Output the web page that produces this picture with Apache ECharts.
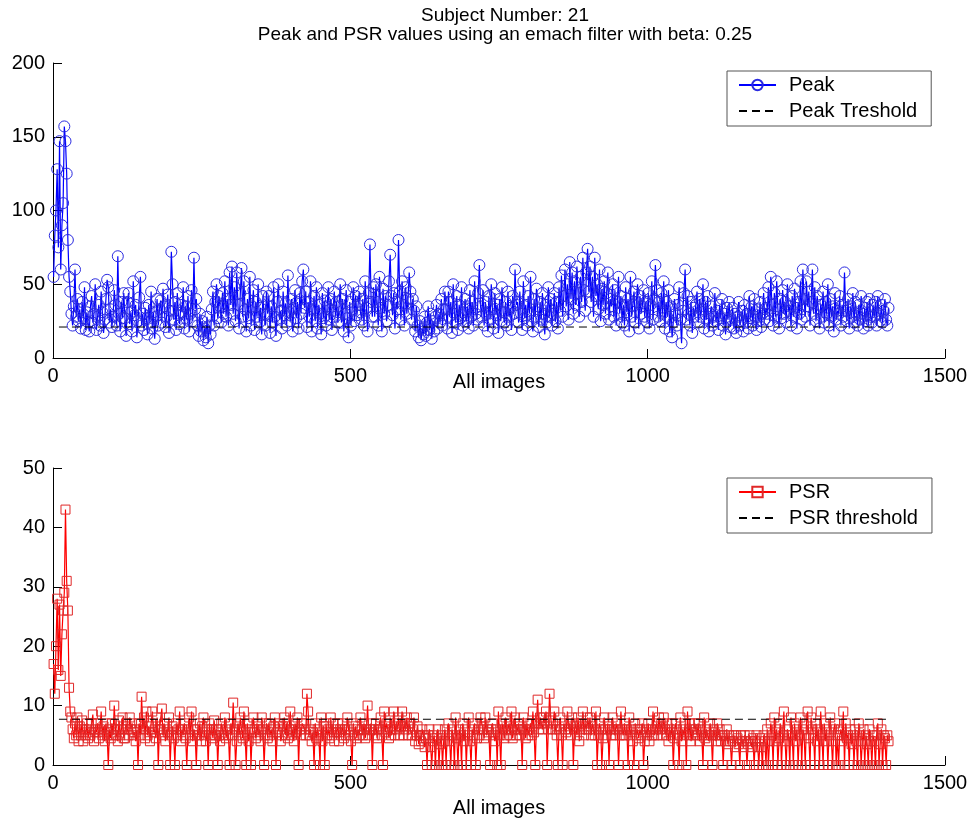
<!DOCTYPE html>
<html><head><meta charset="utf-8">
<script src="https://cdn.jsdelivr.net/npm/echarts@6/dist/echarts.min.js"></script>
<style>html,body{margin:0;padding:0;background:#fff}#c{width:971px;height:824px}</style>
</head><body><div id="c"></div>
<script>
const titleLines = ['Subject Number: 21', 'Peak and PSR values using an emach filter with beta: 0.25'];
const xLabel = 'All images';
const firstImage = 1;
const imageStep = 2;
const peakValues = [
55,83,100,128,75,147,60,90,105,157,147,125,80,55,45,30,22,35,60,28,40,25,33,20,38,27,48,19,31,24,
18,35,42,24,30,50,19,28,36,22,45,31,17,26,40,53,48,24,33,21,28,46,36,22,69,30,18,38,27,44,
27,15,38,44,23,31,18,52,29,36,14,25,41,55,22,30,19,34,27,16,36,24,45,20,31,13,28,40,22,33,
39,24,47,35,21,28,43,17,32,72,50,26,38,19,44,29,23,36,31,48,20,35,26,42,18,30,46,25,68,33,
40,22,15,30,18,25,12,20,14,28,10,22,16,33,45,22,38,50,27,42,35,24,44,30,52,28,40,22,58,36,
62,30,48,25,58,36,20,44,61,28,52,33,18,40,27,55,22,35,46,19,38,28,50,24,34,16,42,30,22,45,
30,42,17,35,24,48,28,15,38,50,26,32,20,45,29,37,22,56,31,25,40,18,34,46,27,38,20,44,30,52,
60,34,45,21,38,28,52,18,33,42,25,48,20,36,30,16,44,27,39,22,35,48,26,40,19,32,45,28,38,24,
35,50,24,40,18,30,46,27,14,38,22,33,48,25,42,29,36,45,31,26,40,22,52,34,18,44,77,38,28,48,
28,50,38,22,55,34,18,47,30,42,25,36,52,70,42,29,44,20,38,33,80,45,26,52,36,22,48,30,40,58,
45,26,40,32,18,35,22,14,25,12,20,16,28,15,24,35,19,30,13,25,18,28,36,20,30,24,40,22,33,45,
33,20,45,28,38,17,50,30,24,42,19,36,27,48,22,31,40,25,35,20,46,28,38,22,52,30,26,44,63,35,
28,46,22,38,30,18,42,26,50,33,20,44,29,36,17,40,25,48,31,24,38,22,45,28,34,19,42,30,60,36,
38,24,45,30,19,52,27,36,22,42,30,55,25,18,40,28,47,33,21,38,26,44,30,16,36,24,48,28,40,22,
30,44,25,38,20,48,32,56,28,42,60,35,50,26,65,40,58,30,52,36,62,44,28,55,38,68,46,32,58,74,
45,62,38,55,28,68,42,50,33,60,25,47,36,52,30,44,58,26,40,35,50,28,46,22,38,55,30,42,24,36,
22,48,31,40,18,55,28,36,45,24,38,50,20,42,30,35,46,28,38,24,44,20,36,52,26,40,63,46,28,38,
25,44,30,52,20,38,28,46,18,35,14,24,40,30,22,36,48,26,10,32,44,60,26,42,30,22,38,17,34,28,
36,45,24,40,28,33,50,20,38,26,42,18,30,35,22,28,44,25,32,19,36,27,40,22,30,16,34,26,38,21,
26,34,20,30,17,28,38,22,25,32,18,36,24,30,20,42,27,35,22,40,28,19,33,25,38,21,30,44,26,34,
30,48,25,55,36,22,44,28,52,33,20,40,27,46,30,38,24,50,32,35,22,42,28,47,34,20,38,30,52,26,
60,40,28,52,35,45,22,38,60,30,48,25,42,33,20,36,28,45,24,38,30,50,22,40,28,35,18,44,26,32,
30,42,22,36,28,58,32,25,40,20,35,28,44,24,38,30,22,36,26,42,30,20,34,25,38,22,40,28,24,36,
28,38,22,42,30,25,36,24,32,40,26,22,34
];
const psrValues = [
17,12,20,28,16,27,15,22,26,29,43,31,26,13,9,8,6,4.5,7,5,8,4,6.5,5,7.5,4,6,5,7,4.5,
6,5,7,8.5,4,6,5.5,7,4.5,6,9,5,6.5,4,7,5,0,6,4.5,7,5,10,6,5,4,7.5,5,6,8,4.5,
4.5,7,6,5,8,6,7,5,5.5,4,6,0,7,5,11.5,6,8,4.5,9,5,6.5,4,7,9,5.5,6,4.5,8,0,6,
6,9.5,5,7,4,6,5.5,8,0,5,6.5,4.5,0,7,5,6,9,4,6,5,7,4.5,0,6,8,5,9,4,6,5,
0,6,5,7,4,6.5,8,5,4,6,0,7,5,6,4.5,7.5,5,6,0,5,4,7,6,5,8,4.5,6,5,0,7,
5,10.5,6,0,4,7,5,8,6,4.5,9,5,0,7,4,6,0,5.5,8,6,4.5,7,5,6,4,8,6,0,5,7,
4.5,7,5,6,4,6.5,8,0,5.5,6,7,4,5,6.5,8,5,7,4.5,6,9,5,6,4,7,5.5,8,0,6,5,7,
7,6,5,12,9,5,6,4,5.5,0,7,4.5,6,5,0,8,4,6.5,0,7,5,6,4.5,8,5,7,4,6,5.5,7,
4,6,5,7,4.5,6,5,8,6,5,4,0,7,5,6.5,4.5,6,5,8,6,5,7,4.5,6,10,5,6,7,0,6,
5,7,4.5,6,6,8,5,0,9,5.5,7,6,4.5,8,5,6,9,5,7,6,8,5,6.5,9,5,7,6,8,5,7,
7,5,6,8,4,5,6.5,3.5,5,4,6,5,3,4.5,0,5,6,3,0,4,5,0,4.5,6,0,3.5,5,0,4,6,
0,5,7,4,0,6,5,0,8,4.5,0,6,5,0,7,4,6,0,5,8,4,0,6,5,7,0,4.5,6,5,8,
7,6,4.5,8,5,6,5.5,0,6,7,5,4,6,0,9,5,0,7,6,4.5,8,5,6,7,5,9,4.5,6,8,5,
6,7,5,6,0,8,6,4.5,7,5,6,7,5,9,5.5,0,7,11,6,8,7,6,8,7,9,0,6,12,8,6,
7,9,6,5,0,6,8,5,0,7,6,5.5,9,6,7,5,8,0,6,7,5,8,4,7,6,9,5,7,6,8,
6,8,5,7,6,5,9,0,5,7,6,0,4.5,8,6,5,7,0,6,5,8,6,5,7,6,0,5,9,6,5,
7,5,6,0,8,5,6,4,0,7,5,6,4.5,6,5,7,0,4,6,5,7,4,6,5,9,5,6,7,5,8,
6,7,5,8,6,5,7,4,6,5,7,0,4.5,7,6,5,0,8,4,6,5,7,0,9,5,7,4,6,5,7,
6,5,7,4,6,5,0,8,4.5,6,5,4,7,5,0,6,5,4,7,5,6,4,5,0,5,4,6,3.5,5,4,
0,4,5,3,5,4.5,3.5,0,5,4,3,5,4,0,3.5,5,4,3,4.5,0,4,5,3,0,4.5,3,0,5,4,0,
6,0,4,7,5,0,8,4,6,0,4.5,7,0,5,9,4,0,6,5,0,8,5,0,7,4,6,0,5,8,0,
6,5,0,7,9,4.5,0,8,6,5,0,7,4,6,0,9,5,0,7,4,6,0,5,8,4,0,6,7,0,5,
0,5,6,4,9,0,7,4.5,5,0,6,3.5,5,0,6,4,0,7,5,0,4,6,0,5,3.5,0,6,4,0,5,
4,0,5,7,0,3.5,6,0,5,4.5,0,5,4
];
const peakThreshold = 21;
const psrThreshold = 7.7;
const thresholdImages = [10, 1405];
const xTicks = {min: 0, max: 1500, interval: 500};
const peakTicks = {min: 0, max: 200, interval: 50};
const psrTicks = {min: 0, max: 50, interval: 10};
const seriesNames = ['Peak', 'Peak Treshold', 'PSR', 'PSR threshold'];

const FONT = 'Liberation Sans, Arial, sans-serif';
const toPairs = vals => vals.map((v, i) => [firstImage + i * imageStep, v]);
const thrPairs = t => thresholdImages.map(x => [x, t]);

function xAxis(gi, nameGap) {
  return {
    type: 'value', gridIndex: gi, min: xTicks.min, max: xTicks.max, interval: xTicks.interval,
    name: xLabel, nameLocation: 'middle', nameGap: nameGap, nameMoveOverlap: false,
    nameTextStyle: {fontSize: 20, color: '#000', fontFamily: FONT},
    axisLine: {show: true, onZero: false, lineStyle: {color: '#000', width: 1}},
    axisTick: {show: true, inside: true, length: 9, lineStyle: {color: '#000'}},
    axisLabel: {fontSize: 20, color: '#000', fontFamily: FONT, margin: 8, formatter: v => String(v)},
    splitLine: {show: false}
  };
}
function yAxis(gi, t) {
  return {
    type: 'value', gridIndex: gi, min: t.min, max: t.max, interval: t.interval,
    axisLine: {show: true, lineStyle: {color: '#000', width: 1}},
    axisTick: {show: true, inside: true, length: 9, lineStyle: {color: '#000'}},
    axisLabel: {fontSize: 20, color: '#000', fontFamily: FONT, margin: 8, formatter: v => String(v)},
    splitLine: {show: false}
  };
}
function legend(top, names) {
  return {
    show: true, orient: 'vertical', left: 727, top: top, data: names,
    itemWidth: 37, itemHeight: 13, itemGap: 6,
    padding: [4, 14, 5, 11],
    borderColor: '#555', borderWidth: 1, backgroundColor: '#fff',
    textStyle: {fontSize: 20, color: '#000', fontFamily: FONT, lineHeight: 20, padding: [0, 0, 0, 8]}
  };
}

const chart = echarts.init(document.getElementById('c'), null, {renderer: 'canvas'});
chart.setOption({
  animation: false,
  backgroundColor: '#fff',
  title: {
    text: titleLines.join('\n'), left: 500, top: 1, textAlign: 'center',
    textStyle: {fontSize: 19, fontWeight: 'normal', color: '#000', fontFamily: FONT, lineHeight: 19}
  },
  grid: [
    {left: 53, right: 26, top: 63, height: 295},
    {left: 53, right: 26, top: 468, height: 297}
  ],
  xAxis: [xAxis(0, 14), xAxis(1, 33)],
  yAxis: [yAxis(0, peakTicks), yAxis(1, psrTicks)],
  legend: [legend(71, [seriesNames[0], seriesNames[1]]), legend(478, [seriesNames[2], seriesNames[3]])],
  series: [
    {
      name: seriesNames[0], type: 'line', xAxisIndex: 0, yAxisIndex: 0, data: toPairs(peakValues),
      symbol: 'circle', symbolSize: 11, showAllSymbol: true,
      lineStyle: {color: '#0000ff', width: 1.2},
      itemStyle: {color: 'rgba(255,255,255,0)', borderColor: '#2a2ae0', borderWidth: 1},
      emphasis: {disabled: true}, z: 2
    },
    {
      name: seriesNames[1], type: 'line', xAxisIndex: 0, yAxisIndex: 0, data: thrPairs(peakThreshold),
      symbol: 'none', lineStyle: {color: '#000', width: 1, type: [8, 5]},
      itemStyle: {color: 'rgba(0,0,0,0)', borderWidth: 0}, emphasis: {disabled: true}, z: 3
    },
    {
      name: seriesNames[2], type: 'line', xAxisIndex: 1, yAxisIndex: 1, data: toPairs(psrValues),
      symbol: 'rect', symbolSize: 9, showAllSymbol: true,
      lineStyle: {color: '#ff0000', width: 1.2},
      itemStyle: {color: 'rgba(255,255,255,0)', borderColor: '#e02828', borderWidth: 1},
      emphasis: {disabled: true}, z: 2
    },
    {
      name: seriesNames[3], type: 'line', xAxisIndex: 1, yAxisIndex: 1, data: thrPairs(psrThreshold),
      symbol: 'none', lineStyle: {color: '#000', width: 1, type: [8, 5]},
      itemStyle: {color: 'rgba(0,0,0,0)', borderWidth: 0}, emphasis: {disabled: true}, z: 3
    }
  ]
});
</script></body></html>
